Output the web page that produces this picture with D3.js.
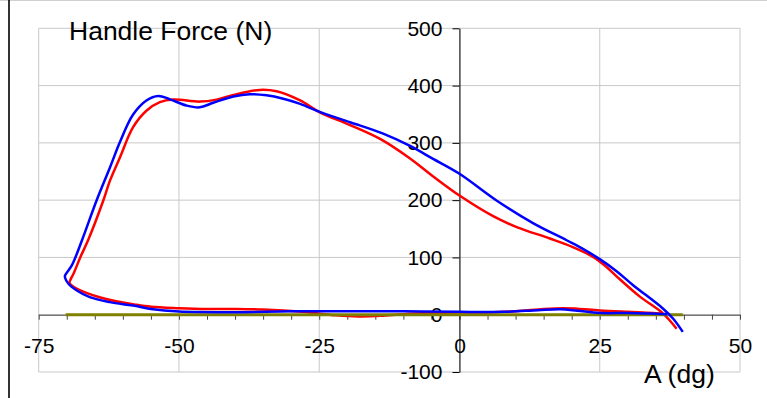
<!DOCTYPE html>
<html>
<head>
<meta charset="utf-8">
<script src="https://cdn.jsdelivr.net/npm/d3@7"></script>
<style>
  html, body { margin: 0; padding: 0; background: #fff; }
  svg { display: block; font-family: "Liberation Sans", Arial, sans-serif; }
</style>
</head>
<body>
<svg id="chart" width="767" height="398"></svg>
<script>
// Handle force (N) versus crank angle A (dg), two measured loops plus a baseline.
// Each loop: return stroke (right to left, low force), then push stroke (left to right).
const blueAngle = [37, 34, 30, 25, 21, 18, 14, 8, 0, -10, -20, -30, -40, -50, -55, -58.2, -62.3, -65.9, -68.2, -69.7, -70.3,
  -70.3, -69.1, -67.3, -64.7, -62.3, -60.5, -58.2, -55.8, -53.7, -51.6, -48.6, -46.3, -43.9, -40.3, -37.4, -34.4, -31.4, -28.4,
  -24.9, -19.5, -13.6, -8.9, -4.7, 0, 6.6, 13.1, 19.1, 22, 25, 28, 30.9, 36.3, 38.1, 39.8];
const blueForce = [1, 2, 3, 3, 7, 9.5, 8, 5, 5, 6, 6, 6, 4.5, 5.5, 10, 16, 22, 30.7, 42.4, 54, 64.5,
  68.5, 86, 129.6, 199, 257, 302, 349, 374, 382, 376, 365, 362, 370, 381, 385, 383, 377, 368,
  354, 336, 316, 295, 272, 246, 199.4, 160, 130, 115, 97, 76, 52, 10.5, -7, -30];

const redAngle = [37, 34.5, 30, 25, 21, 18.5, 15, 10, 5, 0, -5, -10, -14, -18, -22, -28, -35, -40, -45, -50, -55, -58, -61, -64, -66.5, -68.5, -69.5,
  -69.3, -68.8, -67.6, -66.2, -63.5, -62.3, -60.5, -58.2, -55.8, -53.4, -51, -46.3, -43.3, -40.3, -35.6, -32.6, -28.4,
  -24.9, -19.5, -14, -9, -4.5, 0, 6, 10.2, 16.1, 20.2, 23.8, 26, 28, 32.1, 36.3, 38.7];
const redForce = [1, 3, 5, 7.5, 10.5, 11.5, 10, 6, 4, 4, 3, 1, -2, -3, -1, 5, 9, 10, 10, 11.5, 14, 18, 23, 30, 38, 47, 55,
  62, 71.5, 100, 130, 199, 234, 275, 327, 356, 371, 375.5, 372, 375.5, 383.7, 392.5, 390, 374,
  353.4, 331, 306, 274, 240, 208, 172, 153, 133, 118, 101, 85, 67, 32, 2, -24.4];

const baseAngle = [-70.2, 39.8];
const baseForce = [0, 0];

const xTicks = [-75, -50, -25, 0, 25, 50];
const yTicks = [-100, 0, 100, 200, 300, 400, 500];

const svg = d3.select("#chart");
const W = 767, H = 398;
const FONT = "Liberation Sans, Arial, sans-serif";

// outer frame pieces
svg.append("line").attr("x1", 0).attr("x2", W).attr("y1", 0.5).attr("y2", 0.5)
  .attr("stroke", "#d0d0d0").attr("stroke-width", 1);
svg.append("line").attr("x1", 9).attr("x2", 9).attr("y1", 0).attr("y2", H)
  .attr("stroke", "#000").attr("stroke-width", 1.6);

const x = d3.scaleLinear().domain([-75, 50]).range([38.7, 740]);
const y = d3.scaleLinear().domain([-100, 500]).range([372, 28.3]);

// grid
const grid = svg.append("g").attr("stroke", "#c8c8c8").attr("stroke-width", 1);
grid.selectAll("line.v").data(xTicks).join("line").attr("class", "v")
  .attr("x1", d => x(d)).attr("x2", d => x(d)).attr("y1", y(500)).attr("y2", y(-100));
grid.selectAll("line.h").data(yTicks).join("line").attr("class", "h")
  .attr("x1", x(-75)).attr("x2", x(50)).attr("y1", d => y(d)).attr("y2", d => y(d));

// x axis along force = 0
const xAxis = svg.append("g").attr("transform", `translate(0,${y(0)})`)
  .call(d3.axisBottom(x).tickValues(d3.range(-75, 51, 5)).tickSize(5).tickSizeOuter(0).tickPadding(18)
    .tickFormat(d => xTicks.includes(d) ? String(d) : ""));
xAxis.select(".domain").attr("stroke", "#444");
xAxis.selectAll(".tick line").attr("stroke", "#444");
xAxis.selectAll("text").attr("font-size", 21).attr("fill", "#000").attr("font-family", FONT);

// y axis along angle = 0
const yAxis = svg.append("g").attr("transform", `translate(${x(0)},0)`)
  .call(d3.axisLeft(y).tickValues(yTicks).tickSize(7).tickSizeOuter(0).tickPadding(10)
    .tickFormat(d => String(d)));
yAxis.select(".domain").attr("stroke", "#000");
yAxis.selectAll(".tick line").attr("stroke", "#000");
yAxis.selectAll("text").attr("font-size", 21).attr("fill", "#000").attr("font-family", FONT);

const line = d3.line().x(d => x(d[0])).y(d => y(d[1])).curve(d3.curveCatmullRom.alpha(0.5));

svg.append("path").datum(d3.zip(redAngle, redForce)).attr("d", line)
  .attr("fill", "none").attr("stroke", "#ff0000").attr("stroke-width", 2.5).attr("stroke-linejoin", "round");
svg.append("path").datum(d3.zip(baseAngle, baseForce)).attr("d", line)
  .attr("fill", "none").attr("stroke", "#808000").attr("stroke-width", 3);
svg.append("path").datum(d3.zip(blueAngle, blueForce)).attr("d", line)
  .attr("fill", "none").attr("stroke", "#0000ff").attr("stroke-width", 2.5).attr("stroke-linejoin", "round");

// titles
svg.append("text").attr("x", 69).attr("y", 40).attr("font-size", 26.5).attr("fill", "#000")
  .attr("font-family", FONT).text("Handle Force (N)");
svg.append("text").attr("x", 644).attr("y", 383).attr("font-size", 26.5).attr("fill", "#000")
  .attr("font-family", FONT).text("A (dg)");
</script>
</body>
</html>
